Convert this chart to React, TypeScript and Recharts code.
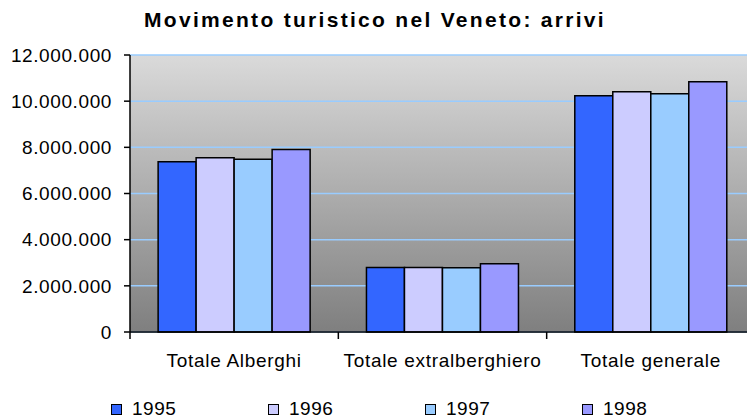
import { BarChart, Bar, XAxis, YAxis, CartesianGrid, Legend } from 'recharts';

const categories = ['Totale Alberghi', 'Totale extralberghiero', 'Totale generale'];
const years = ['1995', '1996', '1997', '1998'];
const arrivi1995 = [7380000, 2790000, 10230000];
const arrivi1996 = [7550000, 2790000, 10410000];
const arrivi1997 = [7480000, 2780000, 10320000];
const arrivi1998 = [7910000, 2960000, 10840000];
const yTicks = [0, 2000000, 4000000, 6000000, 8000000, 10000000, 12000000];

const COLORS = ['#3366ff', '#ccccff', '#99ccff', '#9999ff'];
const series = [arrivi1995, arrivi1996, arrivi1997, arrivi1998];

const data = categories.map((name, i) => {
  const row: Record<string, string | number> = { name };
  years.forEach((y, j) => { row[y] = series[j][i]; });
  return row;
});

const CHART_W = 755;
const Y_W = 130;
const CAT_W = (CHART_W - Y_W) / categories.length;
const FONT = '"Liberation Sans", Arial, sans-serif';

const fmt = (v: number) => v.toLocaleString('en-US').replace(/,/g, '.');

function XTick(props: any) {
  const { x, y, payload } = props;
  return (
    <g>
      <line x1={x - CAT_W / 2} y1={y - 8} x2={x - CAT_W / 2} y2={y - 1} stroke="#000" strokeWidth={1.5} />
      <text x={x} y={y + 27} textAnchor="middle" fill="#000" fontSize={19} letterSpacing={0.7} fontFamily={FONT}>{payload.value}</text>
    </g>
  );
}

function LegendBox() {
  return (
    <div style={{ position: 'relative', height: 40, fontFamily: FONT, fontSize: 19, lineHeight: '16px', letterSpacing: 0.5 }}>
      {years.map((y, i) => (
        <div key={y} style={{ position: 'absolute', left: 111 + i * 157, top: 22, height: 16, display: 'flex', alignItems: 'center' }}>
          <span style={{ width: 9, height: 9, background: COLORS[i], border: '1.5px solid #000', display: 'inline-block', marginRight: 10 }} />
          <span style={{ color: '#000' }}>{y}</span>
        </div>
      ))}
    </div>
  );
}

export default function App() {
  return (
    <div style={{ position: 'absolute', left: 0, top: 0, width: 747, height: 419, overflow: 'hidden', background: '#fff' }}>
      <div style={{ position: 'absolute', left: 0, top: 8, width: 750, textAlign: 'center', fontFamily: FONT, fontWeight: 'bold', fontSize: 21, letterSpacing: 2.3, color: '#000' }}>
        Movimento turistico nel Veneto: arrivi
      </div>
      <BarChart width={CHART_W} height={419} data={data} margin={{ top: 55, right: 0, bottom: 0, left: 0 }} barCategoryGap="13.5%" barGap={0}>
        <defs>
          <linearGradient id="bg" x1="0" y1="0" x2="0" y2="1">
            <stop offset="0%" stopColor="#dadada" />
            <stop offset="100%" stopColor="#7f7f7f" />
          </linearGradient>
        </defs>
        <CartesianGrid vertical={false} fill="url(#bg)" fillOpacity={1} stroke="#99ccff" strokeWidth={1.5} />
        <XAxis dataKey="name" height={47} tick={<XTick />} tickLine={false} axisLine={{ stroke: '#000', strokeWidth: 1.5 }} interval={0} />
        <YAxis width={Y_W} domain={[0, 12000000]} ticks={yTicks} tickFormatter={fmt} tickSize={6} tickMargin={12}
          axisLine={{ stroke: '#000', strokeWidth: 1.5 }} tickLine={{ stroke: '#000', strokeWidth: 1.5 }}
          tick={{ fill: '#000', fontSize: 19, letterSpacing: 0.6, fontFamily: FONT }} />
        {years.map((y, i) => (
          <Bar key={y} dataKey={y} fill={COLORS[i]} stroke="#000" strokeWidth={1.5} isAnimationActive={false} />
        ))}
        <Legend verticalAlign="bottom" content={<LegendBox />} wrapperStyle={{ left: 0, width: 747 }} />
      </BarChart>
    </div>
  );
}
